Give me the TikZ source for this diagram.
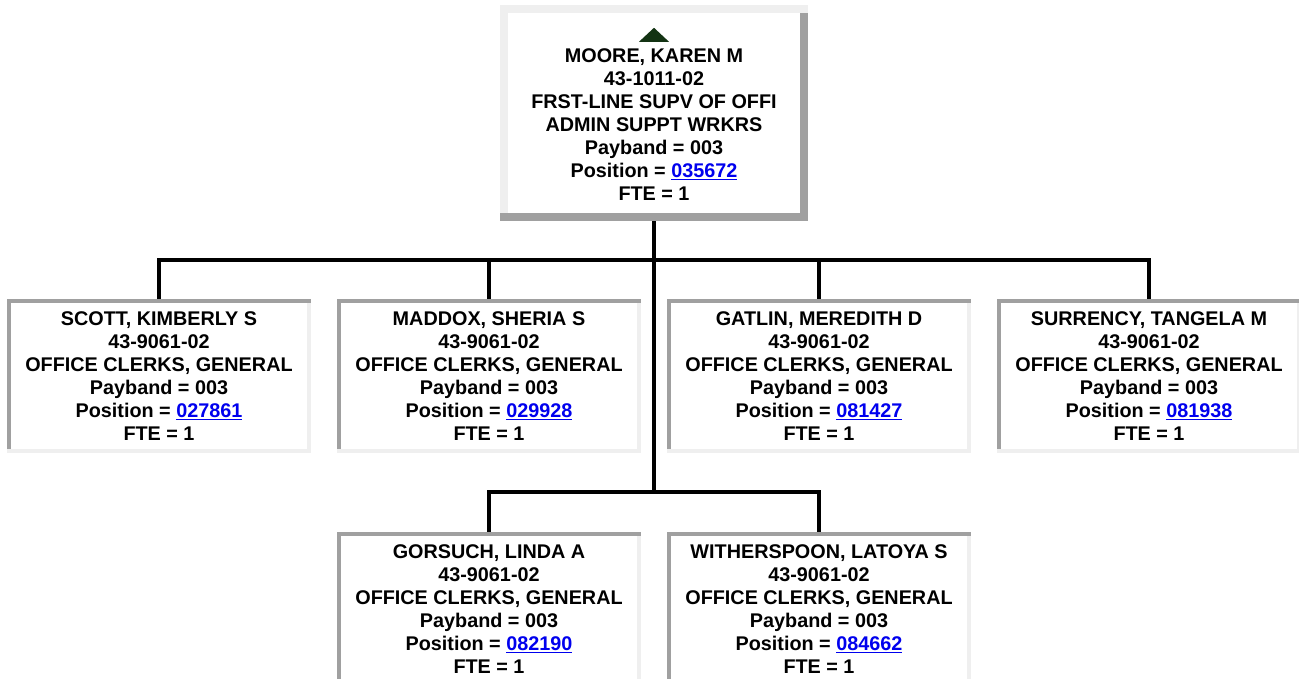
\documentclass[tikz,border=0pt]{standalone}
\usepackage{fontspec}
\setmainfont{Liberation Sans}

\definecolor{rimdark}{HTML}{A0A0A0}
\definecolor{rimlight}{HTML}{EFEFEF}
\definecolor{linkblue}{HTML}{0000EE}
\definecolor{upgreen}{HTML}{133313}

\newcommand{\poslink}[1]{{\color{linkblue}\underline{#1}}}
\newcommand{\cardfont}{\fontsize{19.8}{23}\selectfont\bfseries}

\tikzset{
  bevel/.style n args={3}{path picture={
    \path (path picture bounding box.south west) coordinate (bsw)
          (path picture bounding box.south east) coordinate (bse)
          (path picture bounding box.north east) coordinate (bne);
    \fill[#1] (bsw) rectangle (bne);
    \fill[#2] (bsw) rectangle ([yshift=#3]bse);
    \fill[#2] ([shift={(-#3,#3)}]bse) rectangle ([yshift=-#3]bne);
    \fill[white] ([shift={(#3,#3)}]bsw) rectangle ([shift={(-#3,-#3)}]bne);
  }},
  bossbox/.style={rectangle, inner sep=0pt, minimum width=308pt, minimum height=216pt,
    align=center, font=\cardfont, bevel={rimlight}{rimdark}{8}},
  clerkbox/.style={rectangle, inner sep=0pt, minimum width=304pt, minimum height=154pt,
    align=center, font=\cardfont, bevel={rimdark}{rimlight}{4}},
  wire/.style={line width=4pt}
}

\begin{document}
\begin{tikzpicture}[x=1pt,y=1pt]
\clip (0,0) rectangle (1299,679);
\fill[white] (0,0) rectangle (1299,679);
% supervisor
\node[bossbox] (moore) at (654,566) {\vphantom{M}\\MOORE, KAREN M\\43-1011-02\\FRST-LINE SUPV OF OFFI\\ADMIN SUPPT WRKRS\\Payband = 003\\Position = \poslink{035672}\\FTE = 1};
\fill[upgreen] ([yshift=-23pt]moore.north) -- ++(-15,-14) -- ++(30,0) -- cycle;
% first row
\node[clerkbox] (scott) at (159,303) {SCOTT, KIMBERLY S\\43-9061-02\\OFFICE CLERKS, GENERAL\\Payband = 003\\Position = \poslink{027861}\\FTE = 1};
\node[clerkbox] (maddox) at (489,303) {MADDOX, SHERIA S\\43-9061-02\\OFFICE CLERKS, GENERAL\\Payband = 003\\Position = \poslink{029928}\\FTE = 1};
\node[clerkbox] (gatlin) at (819,303) {GATLIN, MEREDITH D\\43-9061-02\\OFFICE CLERKS, GENERAL\\Payband = 003\\Position = \poslink{081427}\\FTE = 1};
\node[clerkbox] (surrency) at (1149,303) {SURRENCY, TANGELA M\\43-9061-02\\OFFICE CLERKS, GENERAL\\Payband = 003\\Position = \poslink{081938}\\FTE = 1};
% second row
\node[clerkbox] (gorsuch) at (489,70) {GORSUCH, LINDA A\\43-9061-02\\OFFICE CLERKS, GENERAL\\Payband = 003\\Position = \poslink{082190}\\FTE = 1};
\node[clerkbox] (witherspoon) at (819,70) {WITHERSPOON, LATOYA S\\43-9061-02\\OFFICE CLERKS, GENERAL\\Payband = 003\\Position = \poslink{084662}\\FTE = 1};
% connectors
\coordinate (upbar) at (654,419);
\coordinate (lowbar) at (654,187);
\draw[wire] (moore.south) -- (lowbar);
\foreach \n in {scott,maddox,gatlin,surrency}
  \draw[wire] (upbar) -| (\n.north);
\foreach \n in {gorsuch,witherspoon}
  \draw[wire] (lowbar) -| (\n.north);
\end{tikzpicture}
\end{document}
